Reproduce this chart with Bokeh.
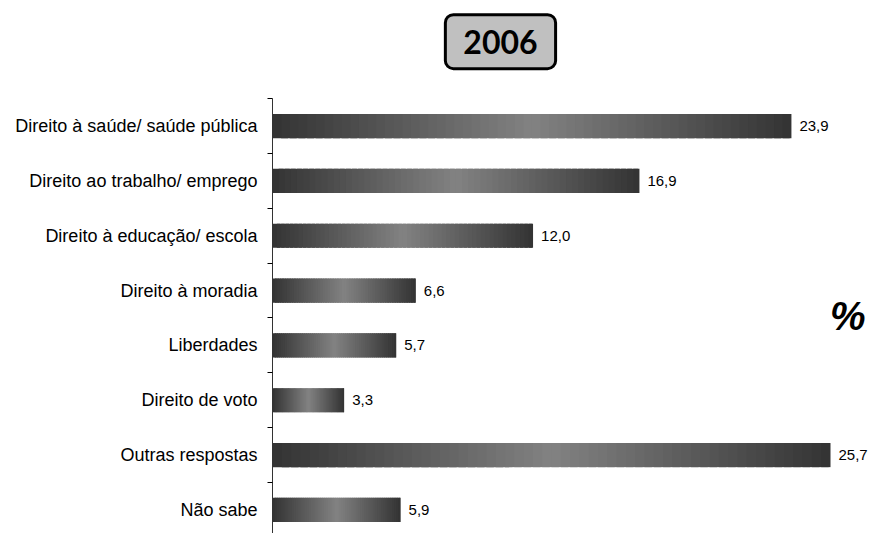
from bokeh.plotting import figure
from bokeh.models import Range1d, FixedTicker, Label, ColumnDataSource
from bokeh.embed import file_html
from bokeh.resources import INLINE
from bokeh.core.properties import value

categories = ["Direito à saúde/ saúde pública", "Direito ao trabalho/ emprego",
              "Direito à educação/ escola", "Direito à moradia", "Liberdades",
              "Direito de voto", "Outras respostas", "Não sabe"]
values = [23.9, 16.9, 12.0, 6.6, 5.7, 3.3, 25.7, 5.9]
value_labels = ["23,9", "16,9", "12,0", "6,6", "5,7", "3,3", "25,7", "5,9"]
year = "2006"
unit = "%"

n = len(categories)
positions = list(range(n))

p = figure(width=873, height=533, output_backend="svg", toolbar_location=None,
           x_range=Range1d(0, 27.68), y_range=Range1d(n - 0.57, -2.29),
           x_axis_location=None, min_border_left=272, min_border_top=0,
           min_border_right=0, min_border_bottom=0)
p.outline_line_color = None
p.xgrid.visible = False
p.ygrid.visible = False
p.background_fill_color = "white"
p.border_fill_color = "white"

# gradient bars: dark at both ends, light in the middle
N = 60
dark, light = 51, 130
ys, lefts, rights, colors = [], [], [], []
for i, v in zip(positions, values):
    for k in range(N):
        t = (k + 0.5) / N
        g = int(round(dark + (light - dark) * (1 - abs(2 * t - 1))))
        ys.append(i)
        lefts.append(v * k / N)
        rights.append(min(v, v * (k + 1.8) / N))
        colors.append("#%02x%02x%02x" % (g, g, g))
src = ColumnDataSource(dict(y=ys, left=lefts, right=rights, color=colors))
p.hbar(y="y", left="left", right="right", height=0.44, fill_color="color",
       line_color=None, source=src)

lab_src = ColumnDataSource(dict(x=values, y=positions, t=value_labels))
p.text(x="x", y="y", text="t", source=lab_src, x_offset=8,
       text_baseline="middle", text_align="left",
       text_font=value("Liberation Sans"), text_font_size="15px", text_color="black")

ax = p.yaxis[0]
ax.bounds = (-0.5, n - 0.5)
ax.ticker = FixedTicker(ticks=positions, minor_ticks=[i - 0.5 for i in range(n + 1)])
ax.major_label_overrides = {i: c for i, c in zip(positions, categories)}
ax.major_tick_out = 0
ax.major_tick_in = 0
ax.minor_tick_out = 5
ax.minor_tick_in = 0
ax.minor_tick_line_color = "black"
ax.axis_line_color = "#333333"
ax.major_label_text_font = "Liberation Sans"
ax.major_label_text_font_size = "18px"
ax.major_label_text_color = "black"
ax.major_label_standoff = 10

title = Label(x=10.5, y=-1.54, text=year, text_font="Lato", text_font_style="bold",
              text_font_size="32px", text_color="black",
              text_align="center", text_baseline="middle",
              background_fill_color="#c0c0c0", border_line_color="black",
              border_line_width=3, border_radius=8, padding=(18, 15))
p.add_layout(title)

pct = Label(x=26.49, y=3.46, text=unit, text_font="Liberation Sans",
            text_font_style="bold italic", text_font_size="40px", text_color="black",
            text_align="center", text_baseline="middle")
p.add_layout(pct)

open("out.html", "w").write(file_html(p, INLINE))
